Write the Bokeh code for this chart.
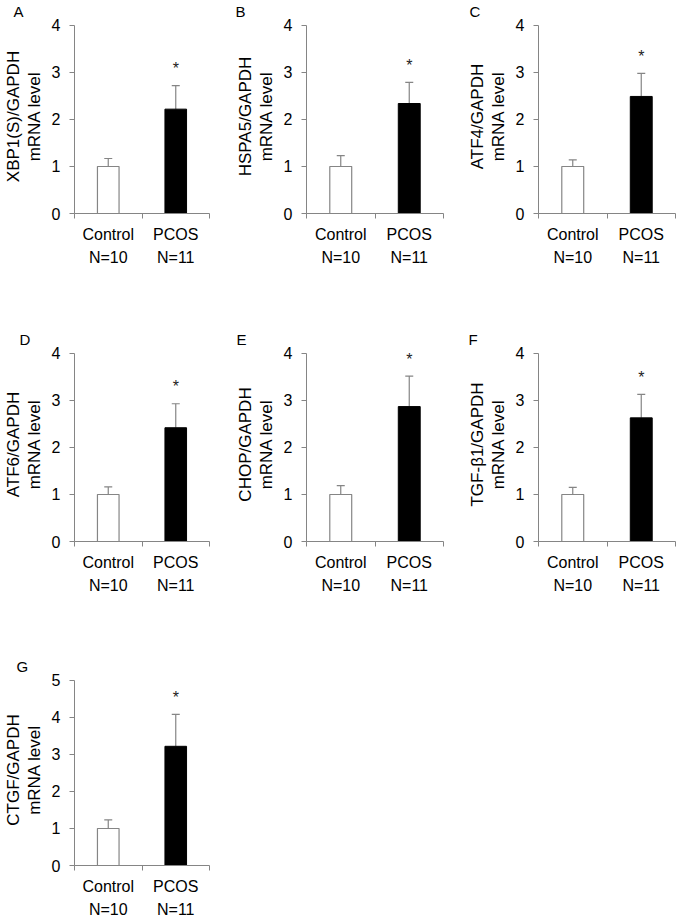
from bokeh.plotting import figure
from bokeh.layouts import column, row
from bokeh.models import Range1d, FixedTicker, LinearAxis, Whisker, ColumnDataSource, TeeHead
from bokeh.core.properties import value
from bokeh.embed import file_html
from bokeh.resources import INLINE

FONT = "Liberation Sans"
GRAY = "#858585"

# ---- data ----
letters = ["A", "B", "C", "D", "E", "F", "G"]
genes = ["XBP1(S)", "HSPA5", "ATF4", "ATF6", "CHOP", "TGF-\u03b21", "CTGF"]
groups = ["Control", "PCOS"]
group_n = ["N=10", "N=11"]
control_mean = [1.0, 1.0, 1.0, 1.0, 1.0, 1.0, 1.0]
control_err = [0.17, 0.23, 0.14, 0.16, 0.19, 0.15, 0.23]
pcos_mean = [2.22, 2.34, 2.49, 2.42, 2.87, 2.63, 3.22]
pcos_err = [0.50, 0.45, 0.49, 0.51, 0.65, 0.50, 0.86]
y_max = [4, 4, 4, 4, 4, 4, 5]

# ---- layout (screen) ----
letter_dx = [-61, -71, -69, -55, -70, -70, -58]
HEAD_PX = 6  # a little room above the top tick so the stars are not clipped


def make_panel(i, width, height, b_left, b_right, b_top, b_bottom, frame_h):
    ymax = y_max[i]
    top = ymax * (1 + HEAD_PX / frame_h)
    p = figure(width=width, height=height, x_range=Range1d(0, 2), y_range=Range1d(0, top),
               output_backend="svg", toolbar_location=None, x_axis_type=None,
               min_border_left=b_left, min_border_right=b_right,
               min_border_top=b_top - HEAD_PX, min_border_bottom=b_bottom)
    p.outline_line_color = None
    p.grid.visible = False
    p.background_fill_color = "white"
    p.border_fill_color = "white"

    # panel letter
    p.title.text = letters[i]
    p.title.text_font = FONT
    p.title.text_font_size = "15px"
    p.title.text_font_style = "normal"
    p.title.text_color = "black"
    p.title.text_line_height = 1.0
    p.title.align = "left"
    p.title.offset = letter_dx[i]
    p.title.standoff = 0

    # bars
    xs = [0.5, 1.5]
    means = [control_mean[i], pcos_mean[i]]
    errs = [control_err[i], pcos_err[i]]
    p.vbar(x=xs[:1], top=means[:1], bottom=0, width=0.32, fill_color="white",
           line_color=GRAY, line_width=1.2)
    p.vbar(x=xs[1:], top=means[1:], bottom=0, width=0.32, fill_color="black",
           line_color="black", line_width=1)

    src = ColumnDataSource(dict(base=xs, lower=means, upper=[m + e for m, e in zip(means, errs)]))
    w = Whisker(base="base", lower="lower", upper="upper", source=src, line_color=GRAY,
                line_width=1.2, lower_head=None,
                upper_head=TeeHead(size=8, line_color=GRAY, line_width=1.2))
    p.add_layout(w)

    # significance star
    star_y = pcos_mean[i] + pcos_err[i] + 0.09 * ymax
    p.text(x=[1.5], y=[star_y], text=["*"], text_font=value(FONT), text_font_size="16px",
           text_align="center", text_baseline="middle", text_color="#222222")

    # y axis
    ya = p.yaxis[0]
    ya.ticker = FixedTicker(ticks=list(range(ymax + 1)), minor_ticks=[])
    ya.bounds = (0, ymax)
    ya.major_tick_out = 5
    ya.major_tick_in = 0
    ya.axis_line_color = GRAY
    ya.major_tick_line_color = GRAY
    ya.major_label_text_font = FONT
    ya.major_label_text_font_size = "16px"
    ya.major_label_text_color = "black"
    ya.major_label_standoff = 9
    ya.axis_label = genes[i] + "/GAPDH\nmRNA level"
    ya.axis_label_text_font = FONT
    ya.axis_label_text_font_size = "17px"
    ya.axis_label_text_font_style = "normal"
    ya.axis_label_text_color = "black"
    ya.axis_label_text_line_height = 1.1
    ya.axis_label_standoff = 5

    # x axes
    xa = LinearAxis(ticker=FixedTicker(ticks=[0.5, 1.5], minor_ticks=[0, 1, 2]),
                    major_label_overrides={0.5: groups[0], 1.5: groups[1]})
    xa.major_tick_line_color = None
    xa.major_tick_out = 0
    xa.minor_tick_out = 5
    xa.minor_tick_in = 0
    xa.minor_tick_line_color = GRAY
    xa.axis_line_color = GRAY
    xa.major_label_text_font = FONT
    xa.major_label_text_font_size = "16px"
    xa.major_label_text_color = "black"
    xa.major_label_standoff = 7
    p.add_layout(xa, "below")

    xn = LinearAxis(ticker=FixedTicker(ticks=[0.5, 1.5], minor_ticks=[]),
                    major_label_overrides={0.5: group_n[0], 1.5: group_n[1]})
    xn.axis_line_color = None
    xn.major_tick_line_color = None
    xn.minor_tick_line_color = None
    xn.major_tick_out = 0
    xn.major_label_text_font = FONT
    xn.major_label_text_font_size = "16px"
    xn.major_label_text_color = "black"
    xn.major_label_standoff = 3
    p.add_layout(xn, "below")
    return p


COLW = [232, 232, 213]
RIGHT = [23, 21, 2]
H = [328, 327, 265]
TOP = [24, 24, 24]
BOTTOM = [115, 114, 53]
FRAME_H = [189, 189, 188]

rows = []
k = 0
for r, ncol in enumerate([3, 3, 1]):
    figs = []
    for c in range(ncol):
        figs.append(make_panel(k, COLW[c], H[r], 73, RIGHT[c], TOP[r], BOTTOM[r], FRAME_H[r]))
        k += 1
    rows.append(row(*figs))

layout = column(*rows)
open("out.html", "w").write(file_html(layout, INLINE))
